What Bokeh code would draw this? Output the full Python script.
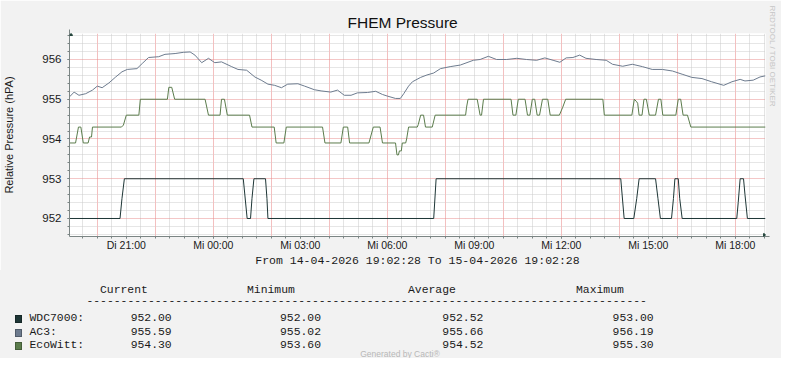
import math
from bokeh.plotting import figure
from bokeh.models import Range1d, FixedTicker, Grid, Arrow, NormalHead, Title, Div
from bokeh.layouts import column
from bokeh.embed import file_html
from bokeh.resources import INLINE

# ---------------- data ----------------
START = "Di 19:02:28"
END = "Mi 19:02:28"

TICK_HOURS = [21, 24, 27, 30, 33, 36, 39, 42]
TICK_LABELS = ["Di 21:00", "Mi 00:00", "Mi 03:00", "Mi 06:00",
               "Mi 09:00", "Mi 12:00", "Mi 15:00", "Mi 18:00"]
Y_TICKS = [952, 953, 954, 955, 956]

WDC_T = ["Di 19:02:28", "Di 20:47", "Di 20:51", "Di 20:56", "Mi 01:02", "Mi 01:10",
         "Mi 01:17", "Mi 01:20", "Mi 01:24", "Mi 01:48", "Mi 01:51", "Mi 01:53",
         "Mi 07:36", "Mi 07:41", "Mi 14:03", "Mi 14:10", "Mi 14:30", "Mi 14:36",
         "Mi 14:41", "Mi 15:15", "Mi 15:20", "Mi 15:25", "Mi 15:48", "Mi 15:52",
         "Mi 15:55", "Mi 16:02", "Mi 16:05", "Mi 16:10", "Mi 18:03", "Mi 18:06",
         "Mi 18:10", "Mi 18:17", "Mi 18:20", "Mi 18:25", "Mi 19:02:28"]
WDC_V = [952, 952, 952.5, 953, 953, 952, 952, 952.5, 953, 953, 952.5, 952,
         952, 953, 953, 952, 952, 952.5, 953, 953, 952.5, 952, 952, 952.5,
         953, 953, 952.5, 952, 952, 952.4, 953, 953, 952.6, 952, 952]

AC3_T = ["Di 19:02:28", "Di 19:12", "Di 19:22", "Di 19:36", "Di 19:50", "Di 20:00",
         "Di 20:10", "Di 20:24", "Di 20:38", "Di 20:51", "Di 21:02", "Di 21:22",
         "Di 21:33", "Di 21:46", "Di 22:07", "Di 22:20", "Di 22:41", "Di 22:58",
         "Di 23:12", "Di 23:22", "Di 23:36", "Di 23:50", "Mi 00:03", "Mi 00:17",
         "Mi 00:38", "Mi 00:51", "Mi 01:09", "Mi 01:26", "Mi 01:39", "Mi 01:53",
         "Mi 02:07", "Mi 02:21", "Mi 02:34", "Mi 02:55", "Mi 03:09", "Mi 03:29",
         "Mi 03:43", "Mi 04:03", "Mi 04:17", "Mi 04:31", "Mi 04:45", "Mi 04:58",
         "Mi 05:19", "Mi 05:36", "Mi 05:50", "Mi 06:00", "Mi 06:17", "Mi 06:27",
         "Mi 06:34", "Mi 06:44", "Mi 06:52", "Mi 07:09", "Mi 07:22", "Mi 07:36",
         "Mi 07:50", "Mi 08:10", "Mi 08:31", "Mi 08:58", "Mi 09:12", "Mi 09:29",
         "Mi 09:46", "Mi 10:07", "Mi 10:28", "Mi 10:48", "Mi 11:09", "Mi 11:26",
         "Mi 11:43", "Mi 11:57", "Mi 12:10", "Mi 12:24", "Mi 12:38", "Mi 12:51",
         "Mi 13:12", "Mi 13:33", "Mi 13:46", "Mi 14:07", "Mi 14:27", "Mi 14:48",
         "Mi 15:08", "Mi 15:29", "Mi 15:50", "Mi 16:10", "Mi 16:30", "Mi 16:51",
         "Mi 17:11", "Mi 17:36", "Mi 17:53", "Mi 18:10", "Mi 18:20", "Mi 18:37",
         "Mi 18:51", "Mi 19:02:28"]
AC3_V = [955.06, 955.18, 955.10, 955.14, 955.23, 955.33,
         955.29, 955.41, 955.56, 955.69, 955.75, 955.77,
         955.90, 956.05, 956.07, 956.13, 956.15, 956.18,
         956.19, 956.11, 955.92, 956.03, 955.92, 955.94,
         955.82, 955.75, 955.73, 955.56, 955.48, 955.38,
         955.35, 955.29, 955.38, 955.39, 955.33, 955.24,
         955.21, 955.18, 955.23, 955.10, 955.10, 955.16,
         955.17, 955.20, 955.12, 955.08, 955.02, 955.02,
         955.14, 955.33, 955.44, 955.55, 955.61, 955.66,
         955.77, 955.82, 955.86, 955.98, 956.00, 956.08,
         956.00, 956.00, 956.03, 956.00, 955.98, 956.04,
         955.98, 955.93, 956.04, 956.05, 956.11, 956.03,
         956.00, 955.98, 955.88, 955.83, 955.88, 955.82,
         955.75, 955.75, 955.71, 955.63, 955.55, 955.52,
         955.44, 955.35, 955.44, 955.50, 955.46, 955.48,
         955.56, 955.59]

ECO_T = ["Di 19:02:28", "Di 19:15", "Di 19:21", "Di 19:26", "Di 19:31", "Di 19:41",
         "Di 19:44", "Di 19:48", "Di 19:50", "Di 20:50", "Di 20:54", "Di 21:00",
         "Di 21:26", "Di 21:29", "Di 22:25", "Di 22:28", "Di 22:34", "Di 22:40",
         "Di 23:43", "Di 23:50", "Mi 00:14", "Mi 00:17", "Mi 00:23", "Mi 00:29",
         "Mi 01:15", "Mi 01:20", "Mi 02:06", "Mi 02:10", "Mi 02:26", "Mi 02:31",
         "Mi 03:46", "Mi 03:51", "Mi 04:24", "Mi 04:29", "Mi 04:38", "Mi 04:42",
         "Mi 05:22", "Mi 05:31", "Mi 05:45", "Mi 05:50", "Mi 06:17", "Mi 06:20",
         "Mi 06:23", "Mi 06:25", "Mi 06:29", "Mi 06:31", "Mi 06:38", "Mi 06:40",
         "Mi 06:44", "Mi 07:02", "Mi 07:04", "Mi 07:09", "Mi 07:15", "Mi 07:19",
         "Mi 07:33", "Mi 07:35", "Mi 07:39", "Mi 08:42", "Mi 08:44", "Mi 08:47",
         "Mi 09:06", "Mi 09:12", "Mi 09:15", "Mi 09:19", "Mi 10:16", "Mi 10:20",
         "Mi 10:26", "Mi 10:31", "Mi 10:45", "Mi 10:50", "Mi 10:55", "Mi 11:00",
         "Mi 11:05", "Mi 11:10", "Mi 11:15", "Mi 11:21", "Mi 11:32", "Mi 11:37",
         "Mi 11:56", "Mi 12:03", "Mi 12:09", "Mi 13:26", "Mi 13:29", "Mi 14:26",
         "Mi 14:31", "Mi 14:35", "Mi 14:38", "Mi 14:41", "Mi 14:47", "Mi 14:51",
         "Mi 14:56", "Mi 15:02", "Mi 15:15", "Mi 15:21", "Mi 15:26", "Mi 15:30",
         "Mi 15:57", "Mi 16:02", "Mi 16:07", "Mi 16:12", "Mi 16:21", "Mi 16:28",
         "Mi 19:02:28"]
ECO_V = [953.9, 953.9, 954.3, 954.3, 953.9, 953.9,
         954.05, 954.05, 954.3, 954.3, 954.35, 954.6,
         954.6, 955.0, 955.0, 955.3, 955.3, 955.0,
         955.0, 954.6, 954.6, 955.0, 955.0, 954.6,
         954.6, 954.3, 954.3, 953.9, 953.9, 954.3,
         954.3, 953.9, 953.9, 954.3, 954.3, 953.9,
         953.9, 954.3, 954.3, 953.9, 953.9, 953.6,
         953.6, 953.7, 953.7, 953.9, 953.9, 954.0,
         954.3, 954.3, 954.36, 954.6, 954.6, 954.3,
         954.3, 954.4, 954.6, 954.6, 954.8, 955.0,
         955.0, 954.6, 954.6, 955.0, 955.0, 954.6,
         954.6, 955.0, 955.0, 954.6, 954.6, 955.0,
         955.0, 954.6, 954.6, 955.0, 955.0, 954.6,
         954.6, 954.8, 955.0, 955.0, 954.6, 954.6,
         955.0, 954.95, 954.9, 954.6, 954.6, 955.0,
         955.0, 954.6, 954.6, 955.0, 955.0, 954.6,
         954.6, 955.0, 955.0, 954.6, 954.6, 954.3,
         954.3]

SERIES_NAMES = ["WDC7000:", "AC3:", "EcoWitt:"]
SERIES_COLORS = ["#1e3636", "#6d7b8e", "#5b7c4c"]
CURRENT = [952.00, 955.59, 954.30]
MINIMUM = [952.00, 955.02, 953.60]
AVERAGE = [952.52, 955.66, 954.52]
MAXIMUM = [953.00, 956.19, 955.30]
COLUMN_HEADERS = ["Current", "Minimum", "Average", "Maximum"]

TITLE = "FHEM Pressure"
Y_LABEL = "Relative Pressure (hPA)"
PERIOD = "From 14-04-2026 19:02:28 To 15-04-2026 19:02:28"
WATERMARK = "RRDTOOL / TOBI OETIKER"
FOOTER = "Generated by Cacti\u00ae"


def hours(s):
    day, t = s.split(" ")
    parts = [int(v) for v in t.split(":")]
    h = parts[0] + parts[1] / 60.0 + (parts[2] / 3600.0 if len(parts) > 2 else 0.0)
    return h + (24.0 if day == "Mi" else 0.0)


T0, T1 = hours(START), hours(END)
Y_MIN, Y_MAX = 951.547, 956.654

W = 781
H_PLOT, H_LEG = 270, 88
FL, FR, FT, FB = 67, 767, 33, 236          # frame edges in canvas pixels

AXIS_COLOR = "#7b8584"
ARROW_COLOR = "#24463c"
MINOR_GRID = "#cccccc"
MAJOR_GRID = "#e88e8e"
MINOR_GRID_V = "#e4e4e4"
MAJOR_GRID_V = "#f3c0c0"
BG = "#f2f2f2"
TXT = "#1a1a1a"

p = figure(width=W, height=H_PLOT, x_range=Range1d(T0, T1), y_range=Range1d(Y_MIN, Y_MAX),
           output_backend="svg", toolbar_location=None,
           min_border_left=FL, min_border_right=W - FR, min_border_top=FT,
           min_border_bottom=H_PLOT - FB,
           background_fill_color="white", border_fill_color=BG, outline_line_color=None)

p.title.text = TITLE
p.title.align = "left"
p.title.offset = 278
p.title.standoff = 6
p.title.text_font = "Liberation Sans"
p.title.text_font_size = "15.5px"
p.title.text_font_style = "normal"
p.title.text_color = "#111111"

p.add_layout(Title(text=WATERMARK, align="left", offset=-28, standoff=5,
                   text_font="Liberation Sans", text_font_size="8px",
                   text_font_style="normal", text_color="#c6c6c6"),
             "right")

p.xgrid.visible = False
p.ygrid.visible = False

half_hours = [k / 2.0 for k in range(int(math.ceil(T0 * 2)), int(math.floor(T1 * 2)) + 1)]
x_major_grid = [h for h in half_hours if abs(h / 2.0 - round(h / 2.0)) < 1e-9]
x_minor_grid = [h for h in half_hours if h not in x_major_grid]
y_fifths = [k / 5.0 for k in range(int(math.ceil(Y_MIN * 5)), int(math.floor(Y_MAX * 5)) + 1)]
y_minor_grid = [v for v in y_fifths if abs(v - round(v)) > 1e-6]

p.add_layout(Grid(dimension=0, ticker=FixedTicker(ticks=x_minor_grid),
                  grid_line_color=MINOR_GRID_V, grid_line_width=1))
p.add_layout(Grid(dimension=1, ticker=FixedTicker(ticks=y_minor_grid),
                  grid_line_color=MINOR_GRID, grid_line_dash="1 1", grid_line_width=1))
p.add_layout(Grid(dimension=0, ticker=FixedTicker(ticks=x_major_grid),
                  grid_line_color=MAJOR_GRID_V, grid_line_width=1))
p.add_layout(Grid(dimension=1, ticker=FixedTicker(ticks=Y_TICKS),
                  grid_line_color=MAJOR_GRID, grid_line_dash="1 1", grid_line_width=1))

p.xaxis.ticker = FixedTicker(ticks=TICK_HOURS, minor_ticks=half_hours)
p.xaxis.major_label_overrides = {h: lab for h, lab in zip(TICK_HOURS, TICK_LABELS)}
p.yaxis.ticker = FixedTicker(ticks=Y_TICKS, minor_ticks=y_fifths)

for ax in (p.xaxis, p.yaxis):
    ax.axis_line_color = AXIS_COLOR
    ax.major_tick_line_color = AXIS_COLOR
    ax.minor_tick_line_color = AXIS_COLOR
    ax.major_tick_in = 0
    ax.major_tick_out = 2
    ax.minor_tick_in = 0
    ax.minor_tick_out = 2
    ax.major_label_text_font = "Liberation Sans"
    ax.major_label_text_color = TXT
    ax.axis_label_text_font_style = "normal"
    ax.axis_label_text_color = TXT

p.xaxis.major_label_text_font_size = "10.5px"
p.xaxis.major_label_standoff = 0
p.xaxis.axis_label = PERIOD
p.xaxis.axis_label_text_font = "Liberation Mono"
p.xaxis.axis_label_text_font_size = "11.5px"
p.xaxis.axis_label_standoff = 0

p.yaxis.major_label_text_font_size = "11.5px"
p.yaxis.major_label_standoff = 6
p.yaxis.axis_label = Y_LABEL
p.yaxis.axis_label_text_font = "Liberation Sans"
p.yaxis.axis_label_text_font_size = "11px"
p.yaxis.axis_label_standoff = 24

p.line([hours(t) for t in ECO_T], ECO_V, line_color=SERIES_COLORS[2], line_width=1)
p.line([hours(t) for t in AC3_T], AC3_V, line_color=SERIES_COLORS[1], line_width=1)
p.line([hours(t) for t in WDC_T], WDC_V, line_color=SERIES_COLORS[0], line_width=1)

# axis arrows
p.add_layout(Arrow(end=NormalHead(size=6, fill_color=ARROW_COLOR, line_color=ARROW_COLOR),
                   x_start=T0, y_start=Y_MAX - 0.05, x_end=T0, y_end=Y_MAX + 0.1,
                   line_color=AXIS_COLOR, line_width=1))
p.add_layout(Arrow(end=NormalHead(size=6, fill_color=ARROW_COLOR, line_color=ARROW_COLOR),
                   x_start=T1 - 0.05, y_start=Y_MIN, x_end=T1 + 0.14, y_end=Y_MIN,
                   line_color=AXIS_COLOR, line_width=1))

# ---------------- statistics block (monospaced RRDtool legend) ----------------
HEADER_X = [100, 247, 408, 576]
VALUE_X = [130.7, 280, 442.3, 612.6]
HEADER_Y = 21
DASH_Y = 32
ROW_Y = [49 + 13.5 * i for i in range(len(SERIES_NAMES))]
FOOTER_Y = 83.5


def span(x, y, text, extra=""):
    return ('<span style="position:absolute;left:%.1fpx;top:%.1fpx;line-height:1;'
            'white-space:pre;transform:translateY(-50%%);%s">%s</span>' % (x, y, extra, text))


parts = []
for hx, head in zip(HEADER_X, COLUMN_HEADERS):
    parts.append(span(hx, HEADER_Y, head))
parts.append(span(86.4, DASH_Y, "-" * 82))
for i, name in enumerate(SERIES_NAMES):
    parts.append('<div style="position:absolute;left:15px;top:%.1fpx;width:7px;height:8px;'
                 'background:%s;border:0.5px solid rgba(0,0,0,0.25);box-sizing:border-box">'
                 '</div>' % (ROW_Y[i] - 4, SERIES_COLORS[i]))
    parts.append(span(29.5, ROW_Y[i], name))
    for vx, vals in zip(VALUE_X, [CURRENT, MINIMUM, AVERAGE, MAXIMUM]):
        parts.append(span(vx, ROW_Y[i], "%.2f" % vals[i]))
parts.append('<span style="position:absolute;left:400px;top:%.1fpx;line-height:1;'
             'white-space:pre;transform:translate(-50%%,-50%%);font-family:\'Liberation Sans\';'
             'font-size:8.5px;color:#b8b8b8">%s</span>' % (FOOTER_Y, FOOTER))

legend_html = ('<div style="position:relative;width:%dpx;height:%dpx;background:%s;'
               'font-family:\'Liberation Mono\',monospace;font-size:11.4px;color:%s;'
               'overflow:hidden">%s</div>' % (W, H_LEG, BG, TXT, "".join(parts)))

legend_div = Div(text=legend_html, width=W, height=H_LEG, margin=0)

layout = column(p, legend_div, spacing=0)
open("out.html", "w").write(file_html(layout, INLINE))
